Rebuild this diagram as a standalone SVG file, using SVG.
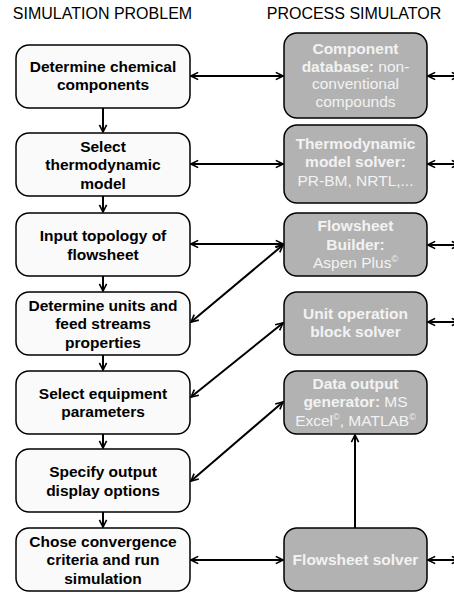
<svg xmlns="http://www.w3.org/2000/svg" width="454" height="593" viewBox="0 0 454 593">
  <style>
    .hdr { font-family: "Liberation Sans", Arial, sans-serif; font-size: 16px; fill: #000; text-anchor: middle; }
    .step rect { fill: #fafafa; stroke: #000; stroke-width: 1.5; }
    .step text { font-family: "Liberation Sans", Arial, sans-serif; font-size: 15.5px; font-weight: bold; fill: #000; text-anchor: middle; }
    .tool rect { fill: #b2b2b2; stroke: #000; stroke-width: 1.5; }
    .tool text { font-family: "Liberation Sans", Arial, sans-serif; font-size: 15.5px; fill: #f2f2f2; text-anchor: middle; }
    .tool .b { font-weight: bold; }
    .sup { font-size: 9px; }
    .conn line { stroke: #000; stroke-width: 2; fill: none; }
  </style>
  <defs>
    <marker id="head" viewBox="0 0 10 10" refX="9" refY="5" markerWidth="9" markerHeight="10" markerUnits="userSpaceOnUse" orient="auto-start-reverse">
      <path d="M1,1 L9,5 L1,9" fill="none" stroke="#000" stroke-width="1.8"/>
    </marker>
  </defs>

  <!-- column headings -->
  <text class="hdr" x="102.5" y="18.5">SIMULATION PROBLEM</text>
  <text class="hdr" x="354" y="18.5">PROCESS SIMULATOR</text>

  <!-- connectors -->
  <g id="connectors" class="conn">
    <!-- sequence of steps -->
    <line x1="103" y1="108" x2="103" y2="132" marker-end="url(#head)"/>
    <line x1="103" y1="196" x2="103" y2="212" marker-end="url(#head)"/>
    <line x1="103" y1="276" x2="103" y2="291" marker-end="url(#head)"/>
    <line x1="103" y1="355" x2="103" y2="370" marker-end="url(#head)"/>
    <line x1="103" y1="434" x2="103" y2="448" marker-end="url(#head)"/>
    <line x1="103" y1="512" x2="103" y2="527" marker-end="url(#head)"/>
    <!-- step to simulator links -->
    <line x1="191" y1="76" x2="283" y2="76" marker-start="url(#head)" marker-end="url(#head)"/>
    <line x1="191" y1="164" x2="283" y2="164" marker-start="url(#head)" marker-end="url(#head)"/>
    <line x1="191" y1="244" x2="283" y2="244" marker-start="url(#head)" marker-end="url(#head)"/>
    <line x1="191" y1="322" x2="283" y2="245" marker-start="url(#head)" marker-end="url(#head)"/>
    <line x1="191" y1="397" x2="283" y2="323" marker-start="url(#head)" marker-end="url(#head)"/>
    <line x1="191" y1="481" x2="283" y2="402" marker-start="url(#head)" marker-end="url(#head)"/>
    <line x1="191" y1="560" x2="283" y2="560" marker-start="url(#head)" marker-end="url(#head)"/>
    <!-- solver to output generator -->
    <line x1="355" y1="528" x2="355" y2="435" marker-end="url(#head)"/>
    <!-- outgoing links on the right -->
    <line x1="428" y1="76" x2="459" y2="76" marker-start="url(#head)" marker-end="url(#head)"/>
    <line x1="428" y1="164" x2="459" y2="164" marker-start="url(#head)" marker-end="url(#head)"/>
    <line x1="428" y1="245" x2="459" y2="245" marker-start="url(#head)" marker-end="url(#head)"/>
    <line x1="428" y1="322" x2="459" y2="322" marker-start="url(#head)" marker-end="url(#head)"/>
    <line x1="428" y1="560" x2="459" y2="560" marker-start="url(#head)" marker-end="url(#head)"/>
  </g>

  <!-- simulation problem steps -->
  <g id="step-components" class="step">
    <rect x="16" y="45" width="174" height="63" rx="13"/>
    <text x="103" y="72">Determine chemical</text>
    <text x="103" y="90">components</text>
  </g>
  <g id="step-thermo" class="step">
    <rect x="16" y="133" width="174" height="63" rx="13"/>
    <text x="103" y="151.5">Select</text>
    <text x="103" y="170">thermodynamic</text>
    <text x="103" y="188.5">model</text>
  </g>
  <g id="step-topology" class="step">
    <rect x="16" y="213" width="174" height="63" rx="13"/>
    <text x="103" y="241">Input topology of</text>
    <text x="103" y="259.5">flowsheet</text>
  </g>
  <g id="step-units" class="step">
    <rect x="16" y="292" width="174" height="63" rx="13"/>
    <text x="103" y="310.5">Determine units and</text>
    <text x="103" y="329">feed streams</text>
    <text x="103" y="347.5">properties</text>
  </g>
  <g id="step-equipment" class="step">
    <rect x="16" y="371" width="174" height="63" rx="13"/>
    <text x="103" y="398.5">Select equipment</text>
    <text x="103" y="417">parameters</text>
  </g>
  <g id="step-output" class="step">
    <rect x="16" y="449" width="174" height="63" rx="13"/>
    <text x="103" y="477">Specify output</text>
    <text x="103" y="495.5">display options</text>
  </g>
  <g id="step-run" class="step">
    <rect x="16" y="528" width="174" height="63" rx="13"/>
    <text x="103" y="546.5">Chose convergence</text>
    <text x="103" y="565">criteria and run</text>
    <text x="103" y="583.5">simulation</text>
  </g>

  <!-- process simulator modules -->
  <g id="tool-database" class="tool">
    <rect x="284" y="33" width="143" height="85" rx="13"/>
    <text x="355.5" y="54" class="b">Component</text>
    <text x="355.5" y="71.5"><tspan class="b">database:</tspan> non-</text>
    <text x="355.5" y="89">conventional</text>
    <text x="355.5" y="106.5">compounds</text>
  </g>
  <g id="tool-thermo" class="tool">
    <rect x="284" y="125" width="143" height="78" rx="13"/>
    <text x="355.5" y="148.5" class="b">Thermodynamic</text>
    <text x="355.5" y="167" class="b">model solver:</text>
    <text x="355.5" y="185.5">PR-BM, NRTL,...</text>
  </g>
  <g id="tool-builder" class="tool">
    <rect x="284" y="213" width="143" height="63" rx="13"/>
    <text x="355.5" y="231" class="b">Flowsheet</text>
    <text x="355.5" y="249.5" class="b">Builder:</text>
    <text x="355.5" y="268">Aspen Plus<tspan class="sup" dy="-6">©</tspan></text>
  </g>
  <g id="tool-unitop" class="tool">
    <rect x="284" y="292" width="143" height="63" rx="13"/>
    <text x="355.5" y="318.5" class="b">Unit operation</text>
    <text x="355.5" y="337" class="b">block solver</text>
  </g>
  <g id="tool-datagen" class="tool">
    <rect x="284" y="371" width="143" height="63" rx="13"/>
    <text x="355.5" y="388.5" class="b">Data output</text>
    <text x="355.5" y="407"><tspan class="b">generator:</tspan> MS</text>
    <text x="355.5" y="425.5">Excel<tspan class="sup" dy="-6">©</tspan><tspan dy="6">, MATLAB</tspan><tspan class="sup" dy="-6">©</tspan></text>
  </g>
  <g id="tool-solver" class="tool">
    <rect x="284" y="528" width="143" height="63" rx="13"/>
    <text x="355.5" y="565" class="b">Flowsheet solver</text>
  </g>
</svg>
